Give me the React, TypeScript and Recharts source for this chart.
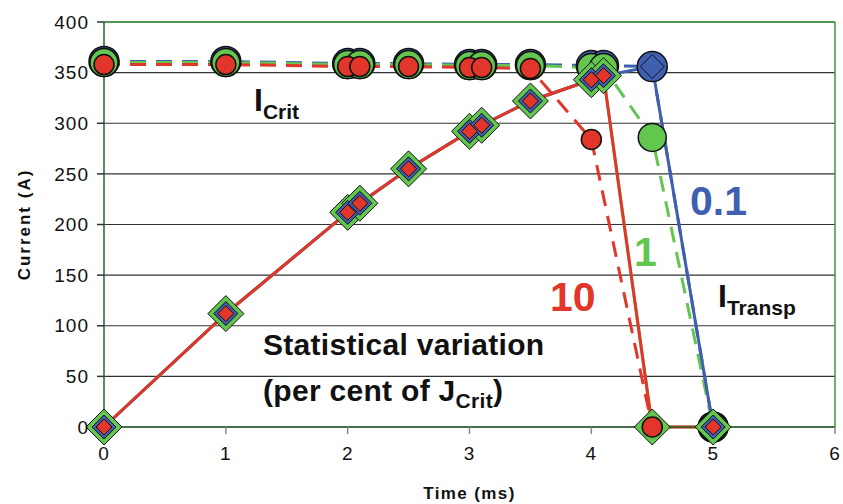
import React from "react";
import { LineChart, Line, XAxis, YAxis, CartesianGrid, ReferenceLine } from "recharts";

const RED = "#e2362b";
const GREEN = "#62c64f";
const BLUE = "#3f5fb0";
const FONT = "'Liberation Sans', Arial, sans-serif";

// time points (ms)
const tCrit01 = [0, 1, 2, 2.1, 2.5, 3, 3.1, 3.5, 4, 4.1, 4.5, 5];
const iCrit01 = [361, 361, 359, 359, 359, 358, 358, 358, 357, 357, 356, 0];
const tCrit1 = [0, 1, 2, 2.1, 2.5, 3, 3.1, 3.5, 4, 4.1, 4.5, 5];
const iCrit1 = [360, 360, 358, 358, 358, 357, 357, 357, 355, 355, 286, 0];
const tCrit10 = [0, 1, 2, 2.1, 2.5, 3, 3.1, 3.5, 4, 4.5];
const iCrit10 = [358, 358, 356, 356, 356, 355, 355, 354, 284, 0];

const tTransp01 = [0, 1, 2, 2.1, 2.5, 3, 3.1, 3.5, 4, 4.1, 4.5, 5];
const iTransp01 = [0, 112, 212, 221, 255, 292, 298, 322, 343, 347, 356, 0];
const tTransp1 = [0, 1, 2, 2.1, 2.5, 3, 3.1, 3.5, 4, 4.1, 4.5, 5];
const iTransp1 = [0, 112, 212, 221, 255, 292, 298, 322, 343, 347, 0, 0];
const tTransp10 = [0, 1, 2, 2.1, 2.5, 3, 3.1, 3.5, 4, 4.1, 4.5, 5];
const iTransp10 = [0, 112, 212, 221, 255, 292, 298, 322, 343, 347, 0, 0];

const xTicks = [0, 1, 2, 3, 4, 5, 6];
const yTicks = [0, 50, 100, 150, 200, 250, 300, 350, 400];

const toRows = (ts: number[], vs: number[]) => ts.map((t, i) => ({ t, v: vs[i] }));

const circleDot = (r: number, fill: string) => (p: any) => {
  if (p.cx == null || p.cy == null) return <g key={`c-${p.index}`} />;
  return (
    <circle key={`c-${p.index}`} cx={p.cx} cy={p.cy} r={r} fill={fill} stroke="#111" strokeWidth={1.5} />
  );
};

const diamondDot = (h: number, fill: string) => (p: any) => {
  if (p.cx == null || p.cy == null) return <g key={`d-${p.index}`} />;
  const { cx, cy } = p;
  const pts = `${cx},${cy - h} ${cx + h},${cy} ${cx},${cy + h} ${cx - h},${cy}`;
  return <polygon key={`d-${p.index}`} points={pts} fill={fill} stroke="#111" strokeWidth={1} />;
};

const bigText: React.CSSProperties = {
  position: "absolute",
  fontFamily: FONT,
  fontWeight: 700,
  lineHeight: 1,
  whiteSpace: "nowrap",
};

export default function App() {
  return (
    <div style={{ position: "absolute", left: 0, top: 0, width: 843, height: 504, background: "#fff" }}>
      <LineChart width={843} height={504} margin={{ top: 22, right: 8, bottom: 27, left: 44 }}>
        <CartesianGrid vertical={false} stroke="#333" strokeWidth={1.2} />
        <XAxis
          type="number"
          dataKey="t"
          domain={[0, 6]}
          ticks={xTicks}
          allowDuplicatedCategory={false}
          height={50}
          stroke="#2f5e2f"
          strokeWidth={1.5}
          tickSize={7}
          tickLine={{ stroke: "#888" }}
          tick={{ fill: "#111", fontSize: 19, fontFamily: FONT, dy: 11, letterSpacing: 1 }}
          label={{ value: "Time (ms)", position: "insideBottom", offset: -22, fill: "#111", fontSize: 17, fontWeight: 700, fontFamily: FONT, letterSpacing: 1.4 }}
        />
        <YAxis
          type="number"
          domain={[0, 400]}
          ticks={yTicks}
          width={60}
          stroke="#2f5e2f"
          strokeWidth={1.5}
          tickSize={7}
          tickLine={{ stroke: "#333" }}
          tick={{ fill: "#111", fontSize: 19, fontFamily: FONT, dx: -6, letterSpacing: 1 }}
          label={{ value: "Current (A)", angle: -90, position: "insideLeft", offset: -20, fill: "#111", fontSize: 17, fontWeight: 700, fontFamily: FONT, letterSpacing: 2, style: { textAnchor: "middle" } }}
        />
        <ReferenceLine y={400} stroke="#3a9a3a" strokeWidth={1.5} />
        <ReferenceLine x={6} stroke="#3a9a3a" strokeWidth={1.5} />

        {/* critical current, dashed, circles */}
        <Line data={toRows(tCrit01, iCrit01)} dataKey="v" stroke={BLUE} strokeWidth={3} strokeDasharray="16 10" dot={circleDot(15, BLUE)} isAnimationActive={false} />
        <Line data={toRows(tCrit1, iCrit1)} dataKey="v" stroke={GREEN} strokeWidth={3} strokeDasharray="16 10" dot={circleDot(14, GREEN)} isAnimationActive={false} />

        {/* transport current, solid, diamonds */}
        <Line data={toRows(tTransp1, iTransp1)} dataKey="v" stroke={GREEN} strokeWidth={3} dot={diamondDot(18, GREEN)} isAnimationActive={false} />
        <Line data={toRows(tTransp01, iTransp01)} dataKey="v" stroke={BLUE} strokeWidth={3} dot={diamondDot(12, BLUE)} isAnimationActive={false} />
        <Line data={toRows(tTransp10, iTransp10)} dataKey="v" stroke={RED} strokeWidth={3} dot={diamondDot(8, RED)} isAnimationActive={false} />

        {/* 10 % critical current drawn last so its circles sit on top */}
        <Line data={toRows(tCrit10, iCrit10)} dataKey="v" stroke={RED} strokeWidth={3} strokeDasharray="16 10" dot={circleDot(10, RED)} isAnimationActive={false} />
      </LineChart>

      <div style={{ ...bigText, left: 254, top: 84, fontSize: 32, color: "#111" }}>
        I<span style={{ fontSize: 21, position: "relative", top: 8 }}>Crit</span>
      </div>
      <div style={{ ...bigText, left: 718, top: 280, fontSize: 32, color: "#111" }}>
        I<span style={{ fontSize: 21, position: "relative", top: 8 }}>Transp</span>
      </div>
      <div style={{ ...bigText, left: 690, top: 181, fontSize: 41, color: BLUE }}>0.1</div>
      <div style={{ ...bigText, left: 634, top: 232, fontSize: 41, color: GREEN }}>1</div>
      <div style={{ ...bigText, left: 550, top: 277, fontSize: 41, color: RED }}>10</div>
      <div style={{ ...bigText, left: 263, top: 330, fontSize: 30, letterSpacing: 0.3, color: "#111" }}>Statistical variation</div>
      <div style={{ ...bigText, left: 263, top: 376, fontSize: 30, letterSpacing: 0.3, color: "#111" }}>
        (per cent of J<span style={{ fontSize: 21, position: "relative", top: 7 }}>Crit</span>)
      </div>
    </div>
  );
}
